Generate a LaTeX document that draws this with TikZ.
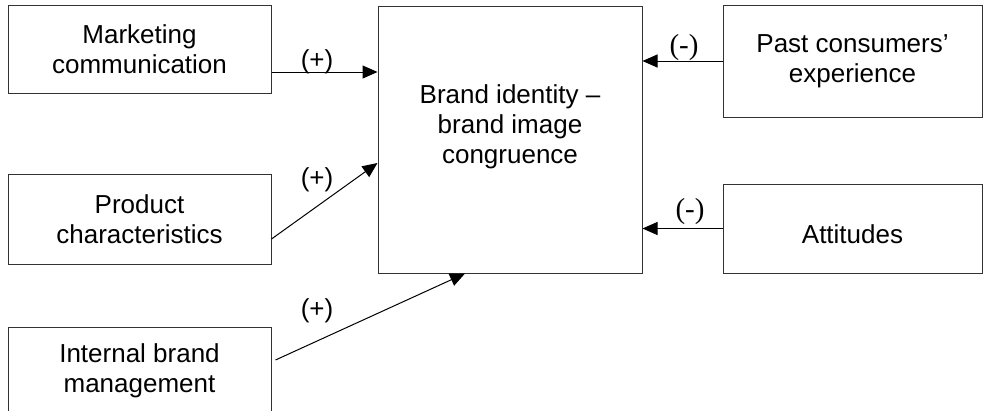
\documentclass[tikz,border=0pt]{standalone}
\usepackage{fontspec}
\setmainfont{Liberation Sans}
\newfontfamily\timesfont{Liberation Serif}
\usetikzlibrary{arrows.meta}
\usetikzlibrary{positioning}

\begin{document}
\begin{tikzpicture}[x=1pt,y=-1pt,line width=1pt,
  box/.style={shape=rectangle,draw=black!80,align=center,inner sep=0pt,
    node font={\fontsize{26}{30}\selectfont}},
  arr/.style={-{Triangle[length=15pt,width=13pt]}},
  sign/.style={inner sep=0pt,node font={\fontsize{26}{30}\selectfont}}]
\useasboundingbox (0,0) rectangle (983,410);
\clip (0,0) rectangle (983,410);

\node[box,minimum width=263pt,minimum height=88pt] (mkt) at (139.5,49) {Marketing\\communication};
\node[box,minimum width=263pt,minimum height=90pt,below=80pt of mkt] (prod) {Product\\characteristics};
\node[box,minimum width=263pt,minimum height=87pt,below=62pt of prod] (intl) {Internal brand\\management};

\node[box,minimum width=264pt,minimum height=267pt] (brand) at (510,139.5) {Brand identity --\\brand image\\congruence\\\mbox{}};

\node[box,minimum width=259pt,minimum height=112pt] (past) at (852.5,61) {Past consumers'\\experience};
\node[box,minimum width=259pt,minimum height=89pt,below=66pt of past] (att) {\mbox{}\\Attitudes};

\node[sign] (p1) at (317,62) {(+)};
\node[sign] (p2) at (317,180) {(+)};
\node[sign] (p3) at (317,311) {(+)};
\node[sign,font={\timesfont\fontsize{29}{33}\selectfont}] (n1) at (684,47.5) {(-)};
\node[sign,font={\timesfont\fontsize{29}{33}\selectfont}] (n2) at (690,211.5) {(-)};

\draw[arr] ([yshift=-23pt]mkt.east) coordinate (m1) -- (m1 -| brand.west);
\draw[arr] ([yshift=-20pt]prod.east) -- ([yshift=-23.5pt]brand.west);
\draw[arr] ([xshift=4pt,yshift=10.5pt]intl.east) -- ([xshift=-45pt]brand.south);
\draw[arr] (past.west) -- (past.west -| brand.east);
\draw[arr] (att.west) -- (att.west -| brand.east);
\end{tikzpicture}
\end{document}
